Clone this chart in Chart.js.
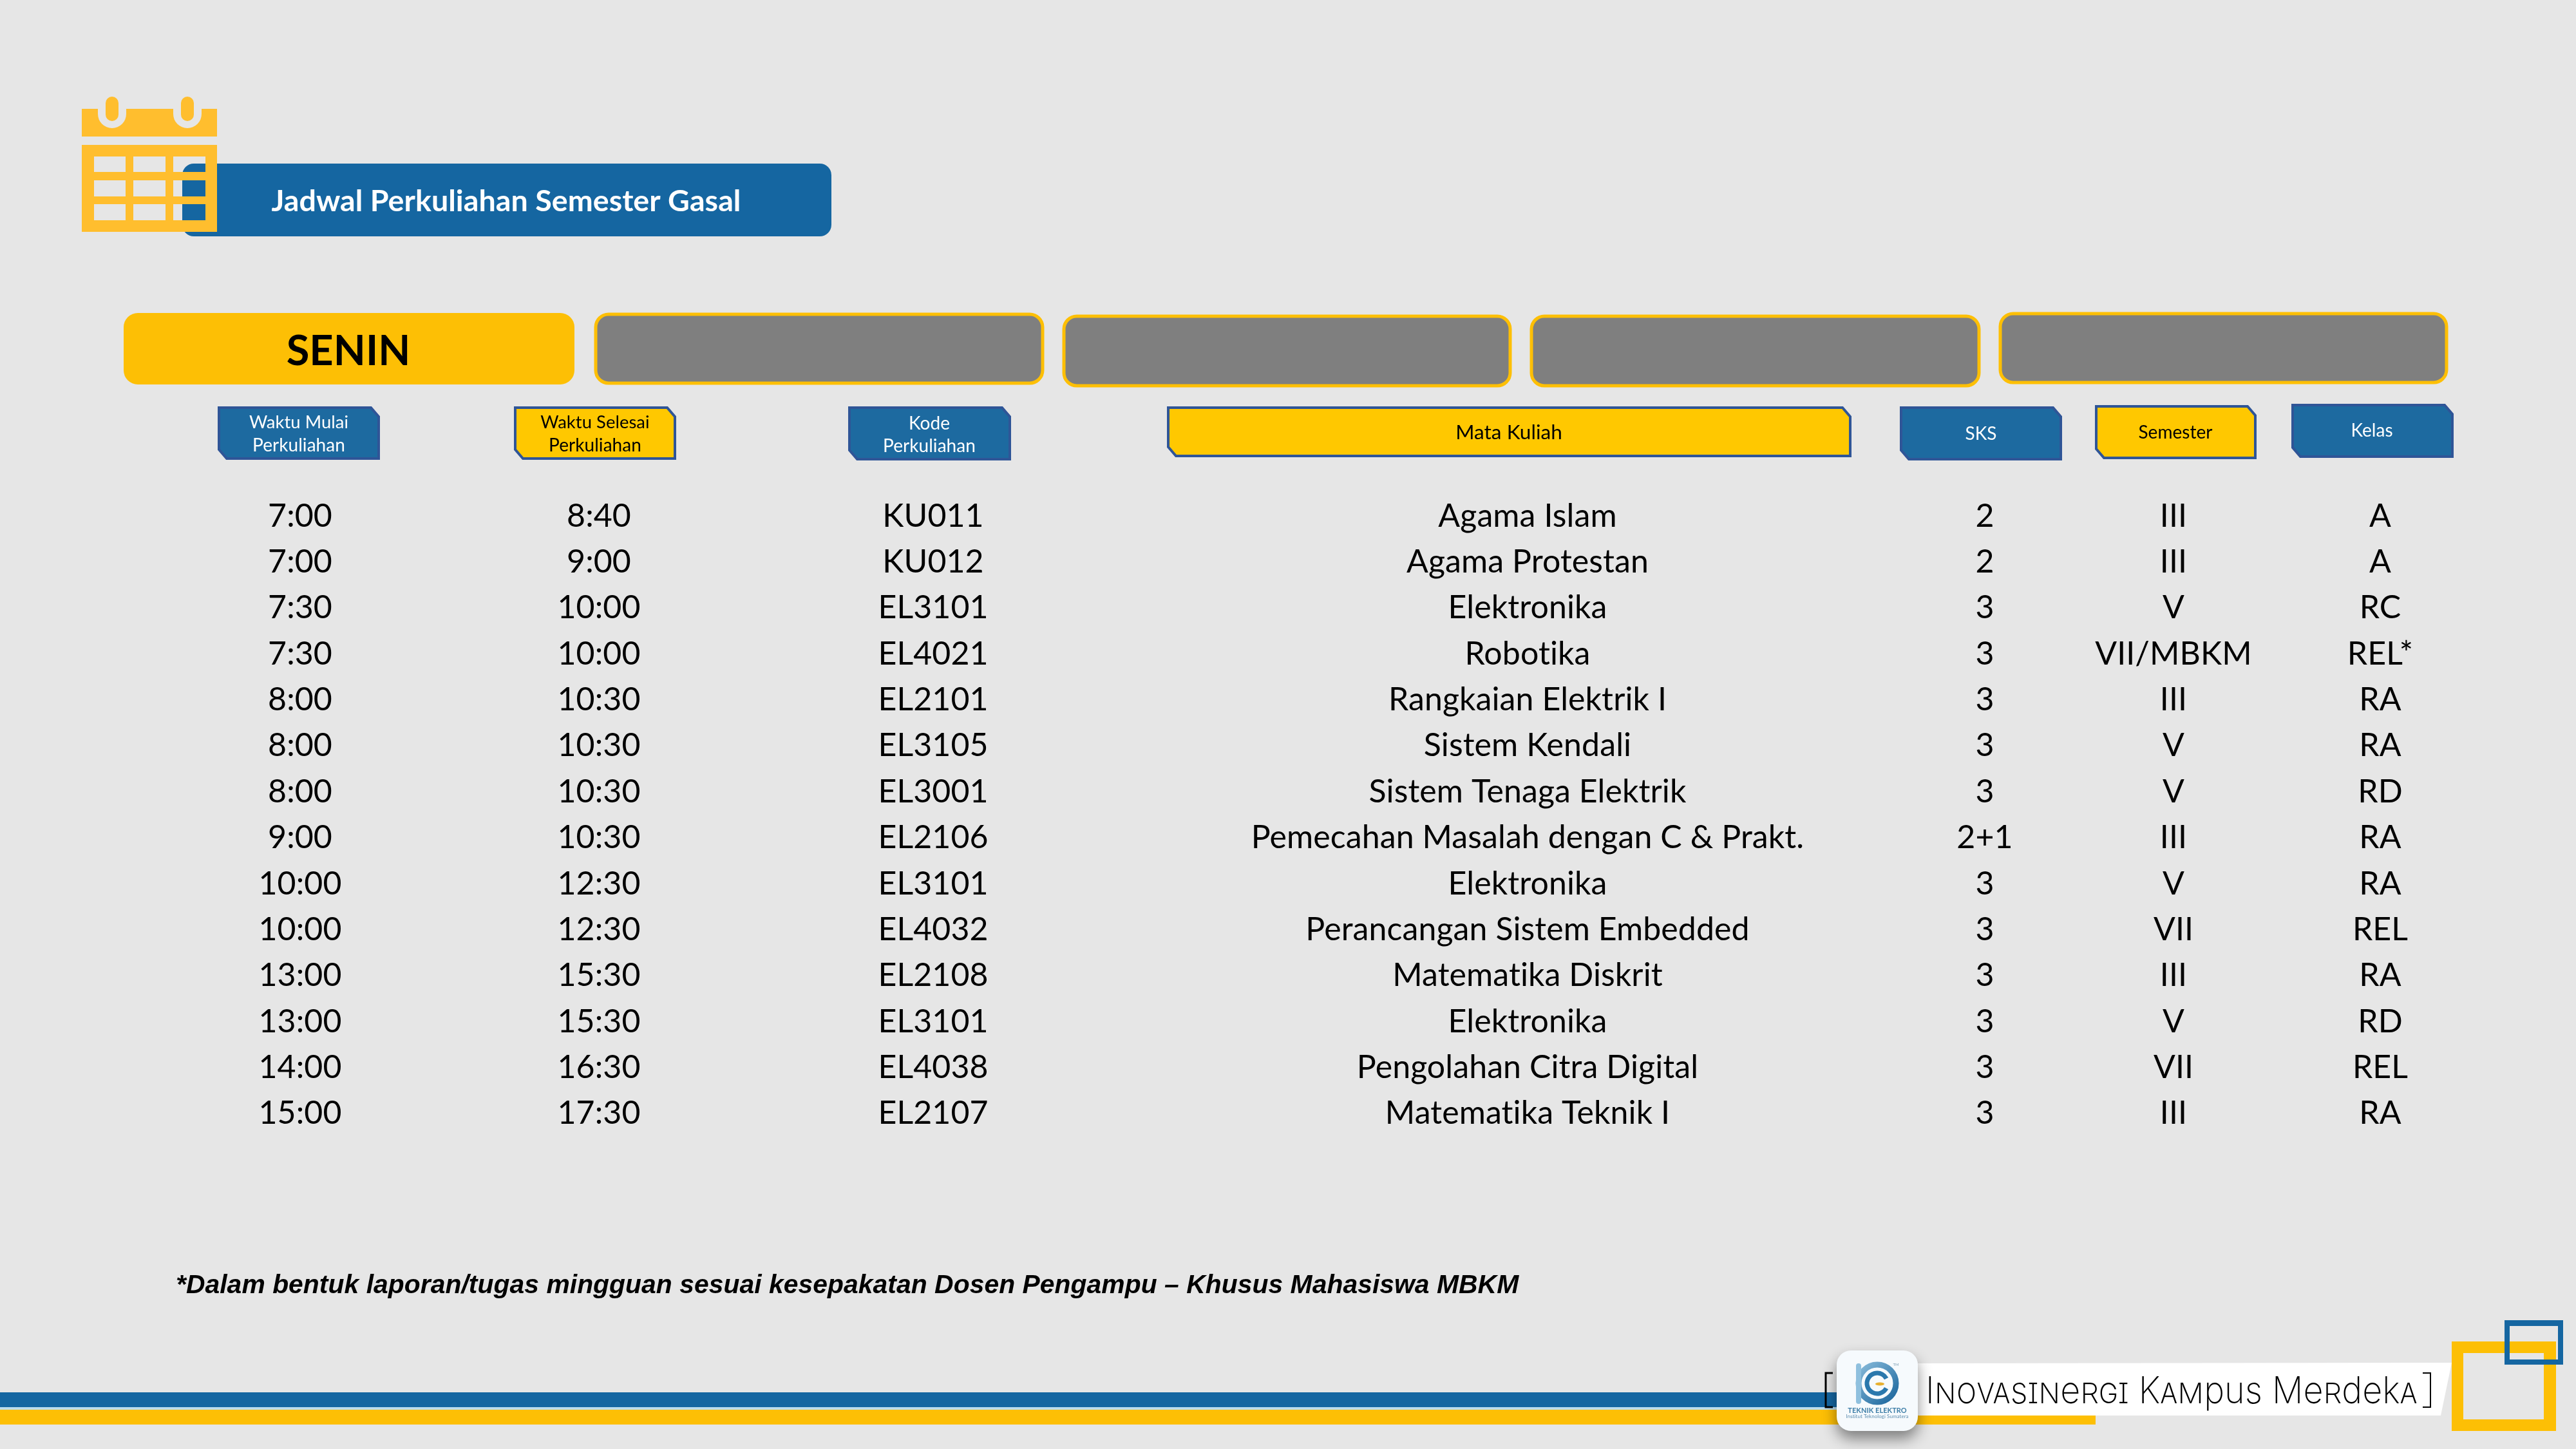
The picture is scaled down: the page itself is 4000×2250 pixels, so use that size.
<!DOCTYPE html>
<html>
<head>
<meta charset="utf-8">
<title>Jadwal Perkuliahan Semester Gasal</title>
<script src="https://cdn.jsdelivr.net/npm/chart.js@4"></script>
<style>
  html, body { margin: 0; padding: 0; background: #e6e6e6; }
  canvas { display: block; }
</style>
</head>
<body>
<canvas id="jadwal" width="4000" height="2250"></canvas>
<script>
// table data, one list per column
var waktuMulai = ["7:00","7:00","7:30","7:30","8:00","8:00","8:00","9:00","10:00","10:00","13:00","13:00","14:00","15:00"];
var waktuSelesai = ["8:40","9:00","10:00","10:00","10:30","10:30","10:30","10:30","12:30","12:30","15:30","15:30","16:30","17:30"];
var kode = ["KU011","KU012","EL3101","EL4021","EL2101","EL3105","EL3001","EL2106","EL3101","EL4032","EL2108","EL3101","EL4038","EL2107"];
var mataKuliah = ["Agama Islam","Agama Protestan","Elektronika","Robotika","Rangkaian Elektrik I","Sistem Kendali","Sistem Tenaga Elektrik","Pemecahan Masalah dengan C & Prakt.","Elektronika","Perancangan Sistem Embedded","Matematika Diskrit","Elektronika","Pengolahan Citra Digital","Matematika Teknik I"];
var sks = ["2","2","3","3","3","3","3","2+1","3","3","3","3","3","3"];
var semester = ["III","III","V","VII/MBKM","III","V","V","III","V","VII","III","V","VII","III"];
var kelas = ["A","A","RC","REL*","RA","RA","RD","RA","RA","REL","RA","RD","REL","RA"];

var columns = [waktuMulai, waktuSelesai, kode, mataKuliah, sks, semester, kelas];
var columnX = [466, 930, 1449, 2372, 3082, 3375, 3696];

var BLUE = "#1566a1", YELLOW = "#fdbf05", TAG_YELLOW = "#ffc800", TAG_BLUE = "#1d6aa0", TAG_LINE = "#2f5597";
var SANS = "Lato, Carlito, sans-serif";

function roundBox(ctx, x0, y0, x1, y1, r, fill, line, lw) {
    ctx.beginPath();
    ctx.roundRect(x0, y0, x1 - x0, y1 - y0, r);
    ctx.fillStyle = fill;
    ctx.fill();
    if (line) {
        ctx.lineWidth = lw;
        ctx.strokeStyle = line;
        ctx.stroke();
    }
}

// a small letter spacing also switches off the Lato "ti" ligature
function label(ctx, text, x, y, font, color, align, spacing) {
    ctx.font = font;
    ctx.fillStyle = color;
    ctx.textAlign = align || "center";
    ctx.textBaseline = "alphabetic";
    ctx.letterSpacing = spacing || "0.05px";
    ctx.fillText(text, x, y);
    ctx.letterSpacing = "0px";
}

// tag with the top right and bottom left corners cut off
function tag(ctx, x0, y0, x1, y1, fill) {
    var c = 14;
    ctx.beginPath();
    ctx.moveTo(x0 + 2, y0 + 2);
    ctx.lineTo(x1 - c, y0 + 2);
    ctx.lineTo(x1 - 2, y0 + c + 2);
    ctx.lineTo(x1 - 2, y1 - 2);
    ctx.lineTo(x0 + c, y1 - 2);
    ctx.lineTo(x0 + 2, y1 - c - 2);
    ctx.closePath();
    ctx.fillStyle = fill;
    ctx.fill();
    ctx.lineWidth = 4;
    ctx.strokeStyle = TAG_LINE;
    ctx.stroke();
}

function drawCalendar(ctx) {
    ctx.fillStyle = "#ffbe2e";
    ctx.beginPath();
    ctx.rect(127, 169, 210, 43);
    ctx.fill();
    // rings
    [174, 291].forEach(function (cx) {
        ctx.beginPath();
        ctx.roundRect(cx - 22, 145, 44, 54, 22);
        ctx.fillStyle = "#e6e6e6";
        ctx.fill();
        ctx.beginPath();
        ctx.roundRect(cx - 10, 150, 20, 38, 10);
        ctx.fillStyle = "#ffbe2e";
        ctx.fill();
    });
    // body with real holes so the banner shows through
    ctx.beginPath();
    ctx.rect(127, 225, 210, 135);
    [[243, 267], [280, 305], [317, 342]].forEach(function (r) {
        [[146, 195], [207, 257], [269, 319]].forEach(function (c) {
            ctx.rect(c[0], r[0], c[1] - c[0], r[1] - r[0]);
        });
    });
    ctx.fillStyle = "#ffbe2e";
    ctx.fill("evenodd");
}

function drawLogo(ctx) {
    ctx.save();
    ctx.shadowColor = "rgba(0,0,0,0.45)";
    ctx.shadowBlur = 22;
    ctx.shadowOffsetY = 12;
    roundBox(ctx, 2852, 2097, 2978, 2222, 22, "#f6fafd");
    ctx.restore();
    var cx = 2915, cy = 2148;
    var ring = ctx.createLinearGradient(2882, 2115, 2948, 2182);
    ring.addColorStop(0, "#8fc0de");
    ring.addColorStop(1, "#125f98");
    ctx.strokeStyle = ring;
    ctx.lineWidth = 9;
    ctx.beginPath(); ctx.arc(cx, cy, 29, 0, 6.3); ctx.stroke();
    ctx.strokeStyle = "#2a78ad";
    ctx.lineWidth = 7;
    ctx.beginPath(); ctx.arc(cx, cy, 16, 0.5, 5.8); ctx.stroke();
    ctx.fillStyle = "#8fc0de";
    ctx.beginPath(); ctx.roundRect(2882, 2117, 8, 63, 4); ctx.fill();
    ctx.fillStyle = "#e8b030";
    ctx.beginPath(); ctx.ellipse(cx + 4, cy + 1, 7, 2.5, 0, 0, 6.3); ctx.fill();
    label(ctx, "TM", 2944, 2121, "400 6px " + SANS, "#7f9fb5");
    label(ctx, "TEKNIK ELEKTRO", 2915, 2194, "700 11px " + SANS, "#3f7fa8");
    label(ctx, "Institut Teknologi Sumatera", 2915, 2202, "400 8px " + SANS, "#5f8fb0");
}

// slide furniture, drawn behind the table
var slidePlugin = {
    id: "slide",
    beforeDraw: function (chart) {
        var ctx = chart.ctx;
        ctx.save();
        ctx.fillStyle = "#e6e6e6";
        ctx.fillRect(0, 0, 4000, 2250);

        // title
        roundBox(ctx, 283, 254, 1291, 367, 18, BLUE);
        drawCalendar(ctx);
        label(ctx, "Jadwal Perkuliahan Semester Gasal", 786, 328, "700 46.6px " + SANS, "#ffffff");

        // day tabs
        roundBox(ctx, 192, 486, 892, 597, 22, YELLOW);
        label(ctx, "SENIN", 541, 567, "700 65px " + SANS, "#000000");
        roundBox(ctx, 925, 488, 1619, 595, 20, "#7f7f7f", YELLOW, 5);
        roundBox(ctx, 1652, 491, 2345, 599, 20, "#7f7f7f", YELLOW, 5);
        roundBox(ctx, 2378, 491, 3073, 599, 20, "#7f7f7f", YELLOW, 5);
        roundBox(ctx, 3106, 487, 3799, 594, 20, "#7f7f7f", YELLOW, 5);

        // column heads
        var f = "400 28px " + SANS;
        var w = "400 27.4px " + SANS;
        tag(ctx, 338, 631, 590, 714, TAG_BLUE);
        label(ctx, "Waktu Mulai", 464, 665, w, "#ffffff");
        label(ctx, "Perkuliahan", 464, 701, f, "#ffffff");
        tag(ctx, 798, 631, 1050, 714, TAG_YELLOW);
        label(ctx, "Waktu Selesai", 924, 665, w, "#000000");
        label(ctx, "Perkuliahan", 924, 701, f, "#000000");
        tag(ctx, 1317, 631, 1570, 715, TAG_BLUE);
        label(ctx, "Kode", 1443, 667, f, "#ffffff");
        label(ctx, "Perkuliahan", 1443, 702, f, "#ffffff");
        tag(ctx, 1812, 631, 2875, 710, TAG_YELLOW);
        label(ctx, "Mata Kuliah", 2343, 682, "400 31.5px " + SANS, "#000000");
        tag(ctx, 2950, 631, 3202, 715, TAG_BLUE);
        label(ctx, "SKS", 3076, 683, f, "#ffffff");
        tag(ctx, 3253, 629, 3504, 713, TAG_YELLOW);
        label(ctx, "Semester", 3378, 681, f, "#000000");
        tag(ctx, 3558, 627, 3810, 711, TAG_BLUE);
        label(ctx, "Kelas", 3683, 678, f, "#ffffff");

        // footnote
        label(ctx, "*Dalam bentuk laporan/tugas mingguan sesuai kesepakatan Dosen Pengampu \u2013 Khusus Mahasiswa MBKM",
            273, 2008, "italic 700 40.85px 'Liberation Sans', Arial, sans-serif", "#000000", "left");

        // footer bars
        ctx.fillStyle = "#bcdcec";
        ctx.fillRect(0, 2185, 2852, 4);
        ctx.fillStyle = BLUE;
        ctx.fillRect(0, 2162, 2852, 23);
        ctx.fillStyle = YELLOW;
        ctx.fillRect(0, 2189, 3254, 23);

        // white strip behind the motto
        ctx.fillStyle = "#ffffff";
        ctx.beginPath();
        ctx.moveTo(2970, 2117);
        ctx.lineTo(3807, 2116);
        ctx.lineTo(3790, 2198);
        ctx.lineTo(2970, 2198);
        ctx.closePath();
        ctx.fill();

        // brackets
        ctx.strokeStyle = "#000000";
        ctx.lineWidth = 3;
        ctx.beginPath();
        ctx.moveTo(2846, 2132); ctx.lineTo(2835, 2132); ctx.lineTo(2835, 2185); ctx.lineTo(2846, 2185);
        ctx.stroke();
        ctx.lineWidth = 2;
        ctx.beginPath();
        ctx.moveTo(3762, 2132); ctx.lineTo(3774, 2132); ctx.lineTo(3774, 2185); ctx.lineTo(3762, 2185);
        ctx.stroke();

        drawLogo(ctx);

        // motto, squeezed to the width of the condensed original
        ctx.save();
        ctx.translate(2990, 2179);
        ctx.scale(0.93, 1);
        ctx.font = "200 58px Inter, Lato, sans-serif";
        ctx.fontVariantCaps = "small-caps";
        ctx.fillStyle = "#000000";
        ctx.textAlign = "left";
        ctx.fillText("Inovasinergi Kampus Merdeka", 0, 0);
        ctx.restore();

        // corner squares
        ctx.fillStyle = YELLOW;
        ctx.beginPath();
        ctx.rect(3807, 2083, 162, 139);
        ctx.rect(3825, 2101, 125, 103);
        ctx.fill("evenodd");
        ctx.fillStyle = BLUE;
        ctx.beginPath();
        ctx.rect(3889, 2050, 91, 69);
        ctx.rect(3897, 2059, 75, 52);
        ctx.fill("evenodd");
        ctx.restore();
    }
};

// writes each cell at the point the scales gave it
var cellPlugin = {
    id: "cells",
    afterDatasetsDraw: function (chart) {
        var ctx = chart.ctx;
        ctx.save();
        columns.forEach(function (col, c) {
            chart.getDatasetMeta(c).data.forEach(function (pt, r) {
                label(ctx, col[r], pt.x, pt.y + 18, "400 50px " + SANS, "#000000", "center", "0.1px");
            });
        });
        ctx.restore();
    }
};

var datasets = columns.map(function (col, c) {
    return {
        data: col.map(function (v, r) { return { x: columnX[c], y: r }; }),
        pointRadius: 0,
        showLine: false
    };
});

new Chart(document.getElementById("jadwal").getContext("2d"), {
    type: "scatter",
    data: { datasets: datasets },
    plugins: [slidePlugin, cellPlugin],
    options: {
        responsive: false,
        animation: false,
        layout: { padding: { left: 0, right: 0, top: 764, bottom: 487 } },
        plugins: { legend: { display: false }, tooltip: { enabled: false } },
        scales: {
            x: { type: "linear", min: 0, max: 4000, display: false },
            y: { type: "linear", min: -0.5, max: 13.5, reverse: true, display: false }
        }
    }
});
</script>
</body>
</html>
